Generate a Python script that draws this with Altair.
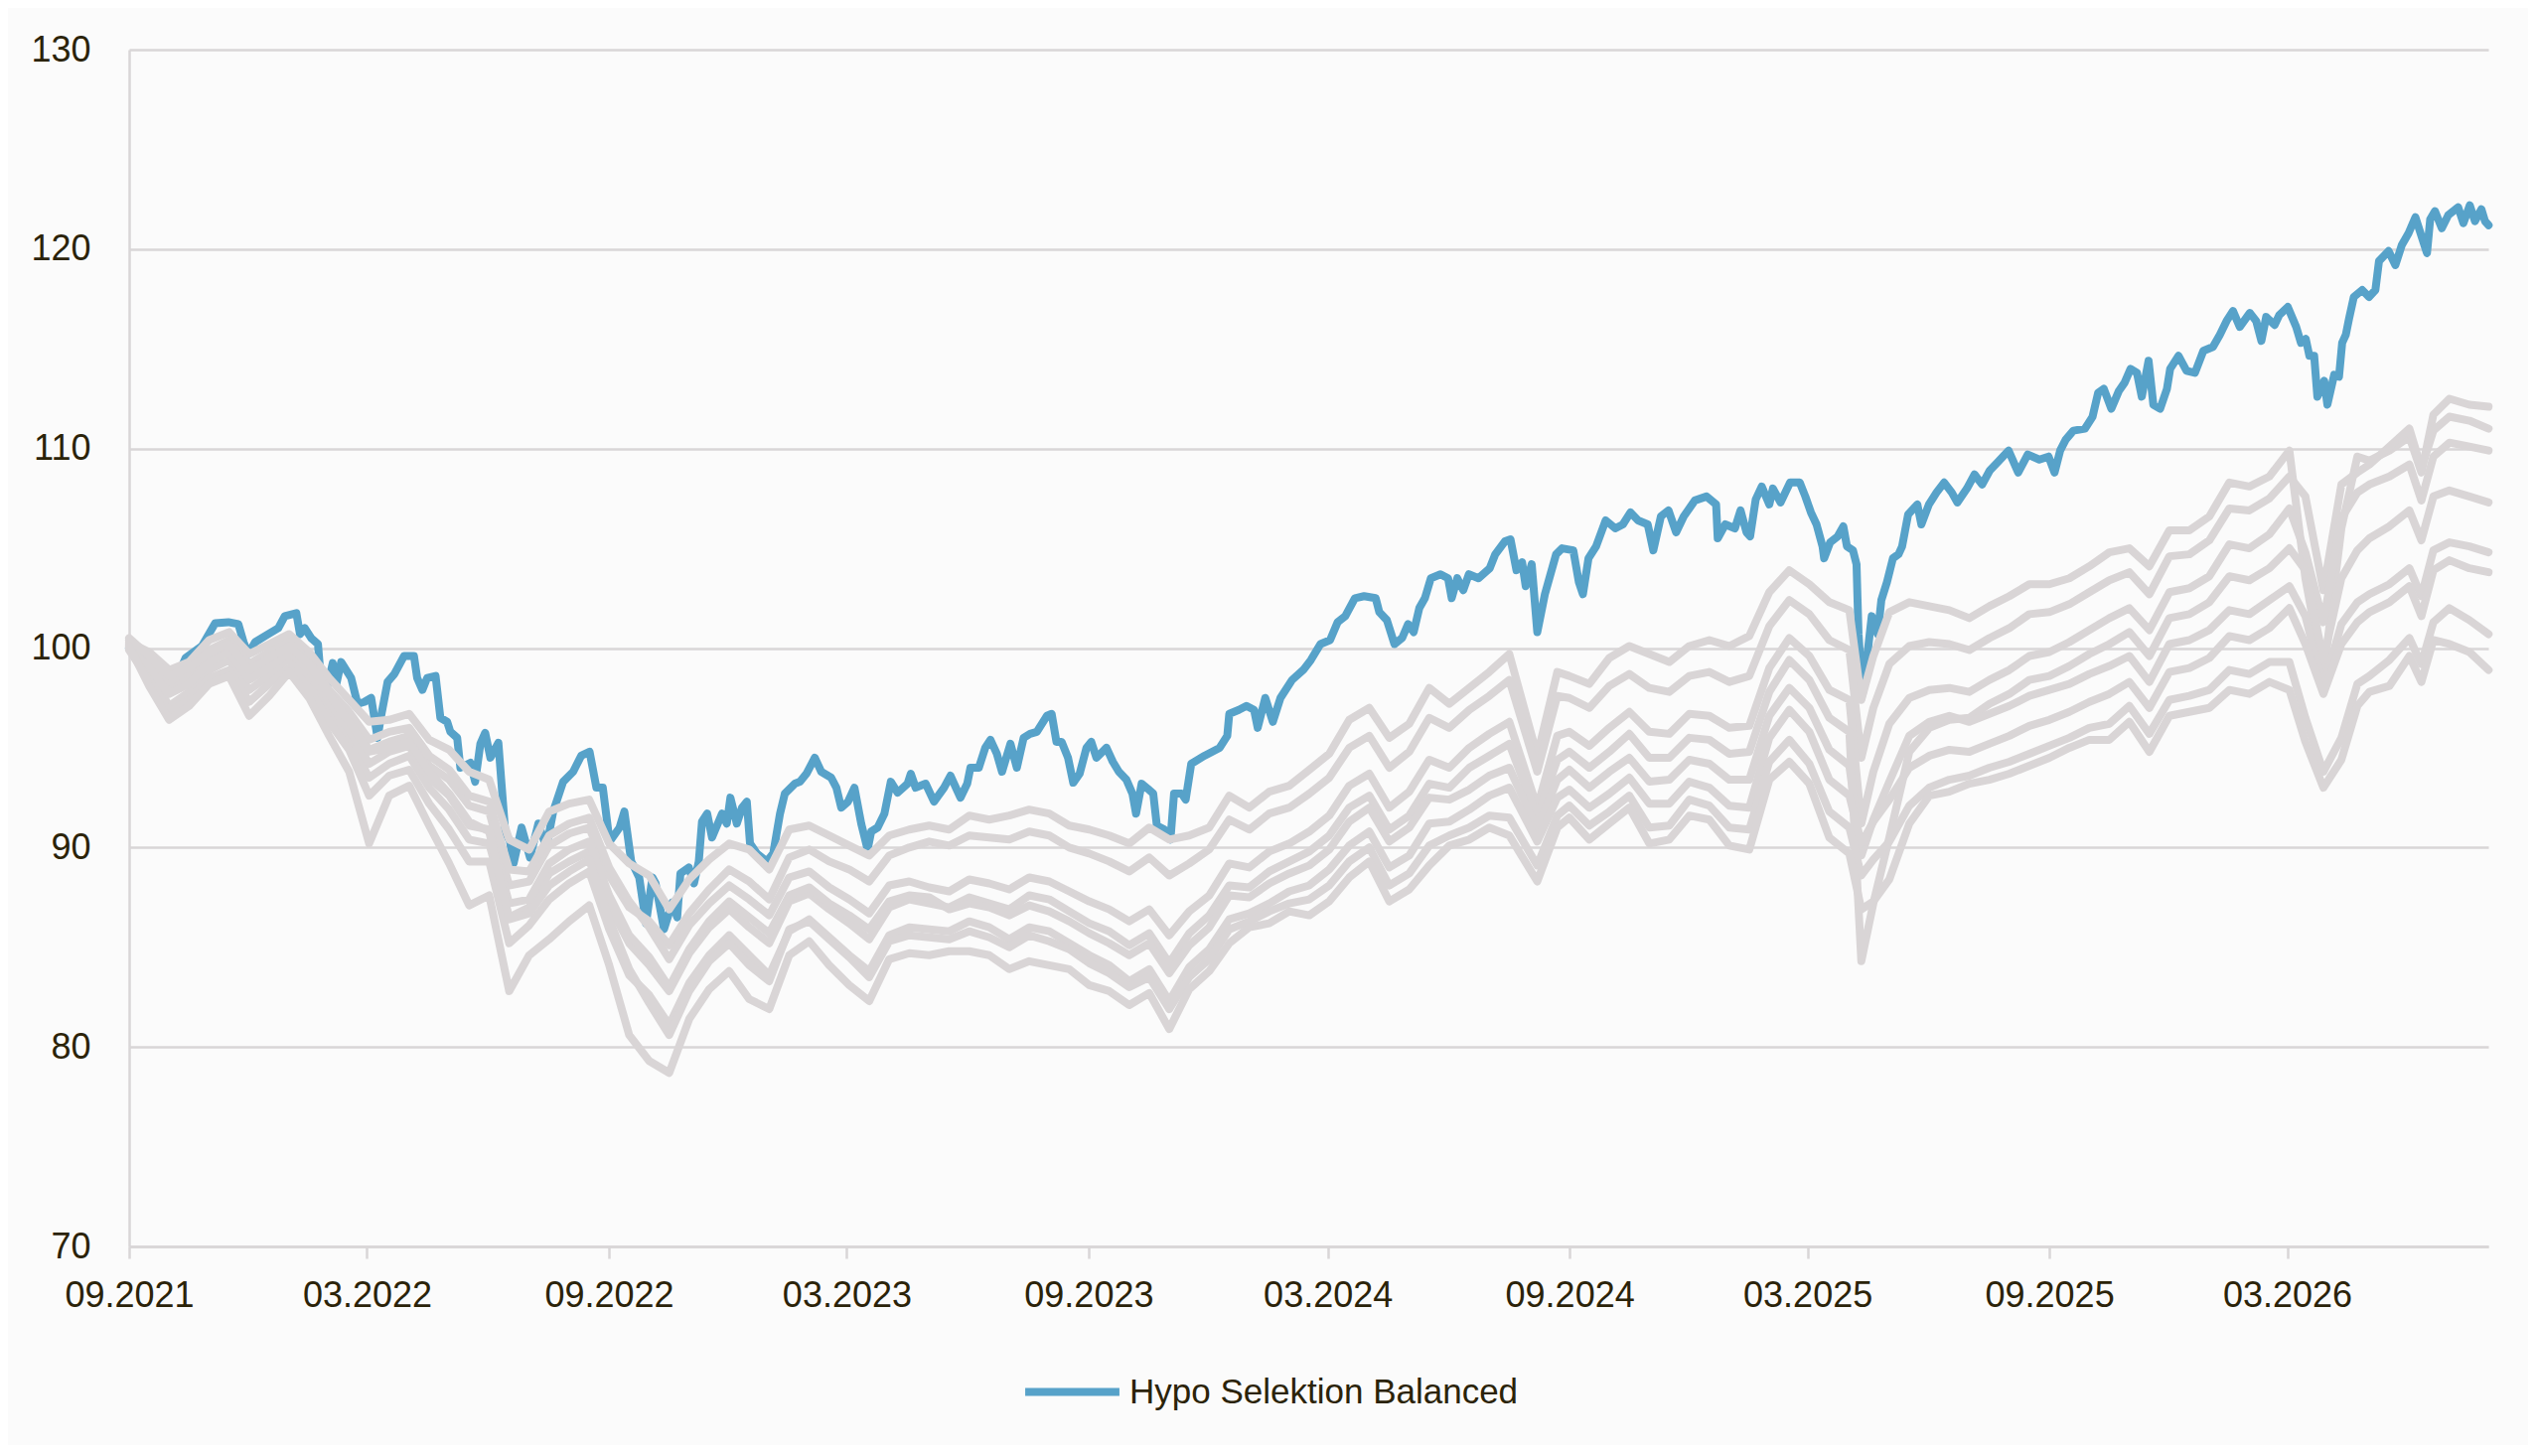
import altair as alt
import numpy as np
import pandas as pd

# ---------------- data ----------------
START = "2021-09-01"
DAYS_PER_MONTH = 30.4375

SERIES_NAME = "Hypo Selektion Balanced"

# highlighted fund: month offsets since 09.2021 and index values
BLUE_M = [0, 0.3, 0.6, 0.85, 1.08, 1.41, 1.82, 2.15, 2.48, 2.73, 2.86, 2.98, 3.15, 3.48, 3.73, 3.89,
          4.18, 4.27, 4.39, 4.55, 4.72, 4.80, 4.97, 5.09, 5.18, 5.30, 5.55, 5.71, 5.88, 6.05, 6.21,
          6.29, 6.46, 6.63, 6.87, 7.12, 7.20, 7.33, 7.45, 7.66, 7.78, 7.95, 8.03, 8.20, 8.28, 8.53,
          8.65, 8.78, 8.90, 9.03, 9.23, 9.40, 9.52, 9.61, 9.81, 10.02, 10.23, 10.43, 10.60, 10.85,
          11.10, 11.30, 11.51, 11.68, 11.84, 12.01, 12.26, 12.38, 12.55,
          12.63, 12.75, 12.92, 13.08, 13.16, 13.37, 13.58, 13.70, 13.78, 13.99, 14.12, 14.24, 14.32,
          14.45, 14.57, 14.82, 14.94, 15.03, 15.19, 15.32, 15.44, 15.52, 15.69, 15.94, 16.10, 16.27,
          16.39, 16.64, 16.77, 16.93, 17.14, 17.30, 17.55, 17.68, 17.80, 17.97, 18.13, 18.30, 18.46,
          18.55, 18.71, 18.88, 19.04, 19.21, 19.46, 19.54, 19.66, 19.91, 20.12, 20.37, 20.53, 20.78,
          20.95, 21.03, 21.24, 21.40, 21.53, 21.69, 21.82, 22.03, 22.19, 22.36, 22.52, 22.69, 22.94,
          23.06, 23.18, 23.31, 23.47, 23.60, 23.76, 23.93, 24.05, 24.18, 24.43, 24.59,
          24.74, 24.93, 25.08, 25.17, 25.31, 25.46, 25.60, 25.69, 25.88, 26.03, 26.12, 26.31, 26.41,
          26.55, 26.88, 27.26, 27.45, 27.50, 27.74, 27.93, 28.12, 28.21, 28.40, 28.59, 28.78, 29.07,
          29.35, 29.54, 29.78, 30.02, 30.21, 30.40, 30.64, 30.87, 31.16, 31.25, 31.44, 31.63, 31.82,
          31.97, 32.11, 32.25, 32.39, 32.54, 32.78, 32.97, 33.06, 33.20, 33.35, 33.49, 33.73, 34.01,
          34.15, 34.39, 34.53, 34.68, 34.82, 34.91, 35.06, 35.20, 35.39, 35.53, 35.67, 35.82, 36.10,
          36.24, 36.34, 36.48, 36.67, 36.91, 37.15, 37.34, 37.53, 37.72, 37.96, 38.10, 38.29, 38.48,
          38.67, 38.86, 39.14,
          39.43, 39.67, 39.71, 39.90, 40.14, 40.28, 40.43, 40.52, 40.66, 40.81, 41.00, 41.09, 41.28,
          41.52, 41.76, 41.90, 42.04, 42.18, 42.33, 42.37, 42.52, 42.71, 42.85, 42.94, 43.09, 43.18,
          43.23, 43.33, 43.47, 43.56, 43.71, 43.80, 43.94, 44.09, 44.23, 44.32, 44.47, 44.70, 44.80,
          44.99, 45.18, 45.37, 45.56, 45.70, 45.94, 46.13, 46.32, 46.51, 46.70, 46.98, 47.22, 47.46,
          47.75, 47.98, 48.13, 48.27, 48.41, 48.60, 48.89, 49.08, 49.22, 49.36, 49.55, 49.74, 49.88,
          50.03,
          50.19, 50.31, 50.48, 50.60, 50.77, 50.94, 51.02, 51.23, 51.43, 51.64, 51.85, 52.09, 52.26,
          52.43, 52.59, 52.76, 53.01, 53.17, 53.30, 53.42, 53.63, 53.75, 53.96, 54.17, 54.29, 54.41,
          54.50, 54.62, 54.70, 54.87, 54.95, 55.12, 55.24, 55.32, 55.41, 55.49, 55.61, 55.82, 55.99,
          56.15, 56.24, 56.48, 56.65, 56.81, 56.98, 57.15, 57.31, 57.44, 57.52, 57.64, 57.81, 57.97,
          58.22, 58.35, 58.51, 58.64, 58.80, 58.89, 58.98]

BLUE_V = [100.0, 99.5, 99.1, 98.2, 98.0, 99.5, 100.1, 101.25, 101.3, 101.2, 100.3, 99.7, 100.3, 100.7,
          101.0, 101.6, 101.75, 100.7, 101.0, 100.5, 100.2, 98.3, 98.2, 99.25, 98.2, 99.3, 98.5, 97.2,
          97.3, 97.5, 95.5, 96.5, 98.3, 98.7, 99.6, 99.6, 98.5, 97.9, 98.5, 98.6, 96.5, 96.3, 95.8,
          95.5, 94.0, 94.25, 93.3, 95.2, 95.75, 94.5, 95.25, 90.8, 90.3, 89.2, 91.0, 89.5, 91.2, 90.0,
          91.8, 93.3, 93.8, 94.6, 94.8, 93.0, 93.0, 90.3, 91.0, 91.8, 89.3,
          89.0, 88.5, 86.2, 88.5, 88.2, 85.9, 87.25, 86.5, 88.7, 89.0, 88.2, 89.3, 91.3,
          91.7, 90.5, 91.7, 91.2, 92.5, 91.2, 92.0, 92.3, 90.2, 89.7, 89.3, 89.7, 91.7,
          92.7, 93.2, 93.3, 93.7, 94.5, 93.8, 93.5, 93.0, 92.0, 92.3, 93.0, 91.2, 89.9,
          90.8, 91.0, 91.7, 93.3, 92.75, 93.2, 93.7, 93.0, 93.2, 92.3, 93.0, 93.6, 92.5,
          93.2, 94.0, 94.0, 95.0, 95.4, 94.7, 93.8, 95.2, 94.0, 95.5, 95.7, 95.8, 96.6,
          96.7, 95.3, 95.3, 94.5, 93.25, 93.7, 95.0, 95.3, 94.5, 95.0, 94.3,
          93.8, 93.4, 92.7, 91.7, 93.2, 92.95, 92.7, 91.1, 90.9, 90.4, 92.7, 92.7, 92.4,
          94.2, 94.6, 95.0, 95.6, 96.7, 96.9, 97.1, 96.9, 96.0, 97.5, 96.3, 97.5, 98.4,
          98.9, 99.4, 100.2, 100.4, 101.3, 101.6, 102.5, 102.6, 102.5, 101.8, 101.4, 100.2, 100.5,
          101.2, 100.8, 102.0, 102.5, 103.5, 103.7, 103.5, 102.5, 103.5, 102.9, 103.7, 103.5, 104.0,
          104.7, 105.35, 105.45, 103.9, 104.3, 103.1, 104.2, 100.8, 102.7, 103.7, 104.7, 105.0, 104.9,
          103.3, 102.7, 104.5, 105.1, 106.4, 106.0, 106.2, 106.8, 106.4, 106.2, 104.9, 106.6, 106.9,
          105.8, 106.6, 107.4,
          107.6, 107.2, 105.5, 106.2, 106.0, 106.9, 105.8, 105.6, 107.45, 108.1, 107.2, 108.0, 107.3,
          108.3, 108.3, 107.6, 106.8, 106.2, 105.1, 104.5, 105.3, 105.6, 106.1, 105.1, 104.9, 104.2,
          100.7, 97.7, 100.0, 101.6, 100.7, 102.4, 103.3, 104.5, 104.7, 105.1, 106.7, 107.2, 106.2,
          107.2, 107.8, 108.3, 107.8, 107.3, 108.0, 108.7, 108.2, 108.9, 109.3, 109.9, 108.8, 109.7,
          109.45, 109.6, 108.8, 109.9, 110.45, 110.9, 111.0, 111.6, 112.8, 113.0, 112.0, 112.9, 113.3,
          114.0,
          113.8, 112.6, 114.4, 112.2, 112.0, 113.0, 114.0, 114.65, 113.9, 113.8, 114.9, 115.1, 115.7,
          116.4, 116.9, 116.1, 116.8, 116.4, 115.4, 116.6, 116.2, 116.7, 117.1, 116.1, 115.3, 115.5,
          114.65, 114.65, 112.6, 113.4, 112.2, 113.7, 113.6, 115.3, 115.7, 116.5, 117.6, 117.95, 117.6,
          117.95, 119.4, 119.9, 119.2, 120.2, 120.8, 121.6, 120.6, 119.8, 121.5, 121.9, 121.05, 121.7,
          122.1, 121.3, 122.2, 121.4, 122.0, 121.4, 121.2]

# peer-group funds (grey), sampled on a common month grid
GRID_M = [0, 0.5, 1, 1.5, 2, 2.5, 3, 3.5, 4, 4.5,
          5, 5.5, 6, 6.5, 7, 7.5, 8, 8.5, 9, 9.5,
          10, 10.5, 11, 11.5, 12, 12.5, 13, 13.5, 14, 14.5,
          15, 15.5, 16, 16.5, 17, 17.5, 18, 18.5, 19, 19.5,
          20, 20.5, 21, 21.5, 22, 22.5, 23, 23.5, 24, 24.5,
          25, 25.5, 26, 26.5, 27, 27.5, 28, 28.5, 29, 29.5,
          30, 30.5, 31, 31.5, 32, 32.5, 33, 33.5, 34, 34.5,
          35.2, 35.7, 36, 36.5, 37, 37.5, 38, 38.5, 39, 39.5,
          40, 40.5, 41, 41.5, 42, 42.5, 43, 43.3, 43.6, 44,
          44.5, 45, 45.5, 46, 46.5, 47, 47.5, 48, 48.5, 49,
          49.5, 50, 50.5, 51, 51.5, 52, 52.5, 53, 53.5, 54,
          54.4, 54.85, 55.3, 55.7, 56, 56.5, 57, 57.3, 57.6, 58, 58.5, 58.98]

PEER_1 = [100.3, 99.8, 98.9, 99.3, 100.4, 100.8, 99.7, 100.2, 100.7, 99.8,
          98.5, 97.4, 96.3, 96.4, 96.7, 95.4, 94.9, 93.8, 93.4, 90.4,
          89.9, 91.8, 92.2, 92.4, 90.2, 89.2, 88.6, 86.9, 88.4, 89.4,
          90.2, 89.9, 88.9, 90.9, 91.1, 90.6, 90.1, 89.6, 90.6, 90.9,
          91.1, 90.9, 91.6, 91.4, 91.6, 91.9, 91.7, 91.1, 90.9, 90.6,
          90.2, 91.0, 90.4, 90.6, 91.0, 92.6, 92.0, 92.8, 93.1, 93.9,
          94.7, 96.4, 97.0, 95.5, 96.2, 98.0, 97.2, 98.0, 98.8, 99.7,
          94.6, 98.8, 98.6, 98.2, 99.5, 100.1, 99.7, 99.3, 100.1, 100.4,
          100.1, 100.6, 102.8, 103.9, 103.2, 102.3, 101.9, 97.4, 99.6, 101.8,
          102.3, 102.1, 101.9, 101.5, 102.1, 102.6, 103.2, 103.2, 103.5, 104.1,
          104.8, 105.0, 104.1, 105.9, 105.9, 106.6, 108.3, 108.1, 108.6, 109.9,
          103.5, 98.6, 106.0, 109.6, 109.4, 109.9, 110.6, 108.8, 111.7, 112.5, 112.2, 112.1]

PEER_2 = [100.1, 99.2, 97.9, 98.5, 99.6, 100.1, 98.7, 99.4, 100.0, 99.0,
          97.6, 96.4, 94.9, 95.3, 95.6, 94.1, 93.4, 92.1, 91.8, 88.1,
          88.3, 90.1, 90.7, 91.0, 88.6, 87.0, 86.3, 85.1, 86.7, 87.9,
          88.9, 88.3, 87.4, 89.5, 89.9, 89.3, 88.9, 88.3, 89.6, 90.0,
          90.3, 90.1, 90.6, 90.5, 90.4, 90.8, 90.6, 90.0, 89.7, 89.3,
          88.8, 89.5, 88.6, 89.2, 89.9, 91.4, 90.9, 91.7, 92.0, 92.7,
          93.5, 95.0, 95.6, 94.0, 94.8, 96.5, 96.0, 96.9, 97.6, 98.4,
          93.8, 97.6, 97.5, 97.0, 98.1, 98.7, 98.0, 97.8, 98.6, 98.8,
          98.3, 98.6, 101.1, 102.4, 101.7, 100.4, 99.9, 94.5, 97.0, 99.2,
          100.1, 100.3, 100.2, 99.9, 100.5, 101.0, 101.7, 101.8, 102.2, 102.8,
          103.4, 103.8, 102.7, 104.6, 104.7, 105.4, 107.0, 106.9, 107.5, 108.6,
          107.6, 102.9, 108.2, 108.8, 109.2, 110.1, 111.0, 109.0, 110.9, 111.6, 111.4, 111.0]

PEER_3 = [100.4, 99.5, 98.3, 98.9, 99.9, 100.4, 99.2, 99.8, 100.3, 99.3,
          97.9, 96.8, 95.4, 95.8, 96.0, 94.6, 93.9, 92.6, 92.3, 88.9,
          88.8, 90.6, 91.2, 91.5, 89.0, 87.3, 86.0, 84.4, 86.1, 87.2,
          88.1, 87.4, 86.6, 88.5, 88.8, 88.0, 87.4, 86.7, 88.1, 88.3,
          88.0, 87.8, 88.4, 88.2, 87.9, 88.5, 88.3, 87.8, 87.3, 86.9,
          86.3, 86.9, 85.6, 86.8, 87.6, 89.2, 89.0, 89.8, 90.2, 90.8,
          91.6, 93.1, 93.7, 92.0, 92.8, 94.4, 94.0, 95.0, 95.7, 96.3,
          92.0, 95.6, 95.8, 95.1, 96.0, 96.8, 95.8, 95.7, 96.7, 96.6,
          96.0, 96.1, 99.0, 100.5, 99.6, 97.9, 97.4, 91.2, 93.8, 96.2,
          97.5, 97.9, 98.0, 97.8, 98.4, 98.9, 99.6, 99.8, 100.3, 100.9,
          101.5, 102.0, 100.9, 102.8, 103.0, 103.6, 105.2, 105.0, 105.7, 107.0,
          104.8, 101.3, 106.5, 107.8, 108.2, 108.6, 109.2, 107.4, 109.6, 110.3, 110.1, 109.9]

PEER_4 = [100.0, 98.8, 97.1, 97.8, 98.9, 99.4, 97.9, 98.6, 99.5, 98.4,
          96.8, 95.4, 93.5, 94.2, 94.6, 93.0, 91.9, 90.4, 90.2, 86.5,
          87.0, 88.7, 89.3, 89.8, 87.1, 85.2, 84.1, 82.8, 84.7, 86.0,
          86.9, 86.0, 85.2, 87.3, 87.7, 86.9, 86.2, 85.4, 87.0, 87.4,
          87.2, 87.0, 87.5, 87.2, 86.9, 87.6, 87.4, 86.8, 86.2, 85.8,
          85.1, 85.7, 84.2, 85.7, 86.6, 88.1, 88.0, 88.8, 89.3, 89.8,
          90.6, 92.0, 92.6, 90.9, 91.6, 93.2, 93.0, 94.0, 94.6, 95.2,
          91.5, 94.4, 94.8, 94.0, 94.8, 95.7, 94.5, 94.5, 95.5, 95.4,
          94.7, 94.8, 97.8, 99.4, 98.4, 96.5, 95.8, 84.3, 87.2, 90.5,
          94.8, 96.0, 96.4, 96.5, 97.2, 97.7, 98.4, 98.6, 99.1, 99.7,
          100.2, 100.8, 99.6, 101.5, 101.7, 102.3, 103.6, 103.4, 104.0, 105.0,
          103.9, 99.4, 103.5, 104.9, 105.5, 106.1, 106.9, 105.4, 107.6, 107.9, 107.6, 107.3]

PEER_5 = [100.2, 99.0, 97.7, 98.2, 99.3, 99.8, 98.4, 99.0, 99.8, 98.9,
          97.3, 95.9, 94.2, 94.8, 95.1, 93.5, 92.6, 91.1, 90.9, 87.2,
          87.4, 89.2, 89.9, 90.3, 87.6, 85.6, 84.5, 83.0, 84.9, 86.3,
          87.3, 86.5, 85.7, 87.6, 88.0, 87.2, 86.6, 85.9, 87.3, 87.6,
          87.5, 86.9, 87.2, 87.0, 86.6, 87.1, 86.8, 86.3, 85.7, 85.2,
          84.6, 85.2, 83.7, 85.1, 86.0, 87.6, 87.5, 88.2, 88.7, 89.1,
          89.9, 91.3, 92.0, 90.3, 91.0, 92.5, 92.4, 92.9, 93.6, 94.0,
          90.9, 93.4, 93.9, 93.0, 93.8, 94.5, 93.3, 93.4, 94.4, 94.2,
          93.4, 93.4, 96.6, 98.0, 97.0, 94.9, 94.1, 89.6, 91.4, 93.3,
          95.6, 96.3, 96.6, 96.3, 96.7, 97.1, 97.6, 97.9, 98.2, 98.7,
          99.1, 99.6, 98.3, 100.2, 100.4, 100.9, 101.9, 101.7, 102.4, 103.1,
          101.6, 98.0, 101.2, 102.3, 102.7, 103.2, 104.0, 102.6, 104.9, 105.3, 105.1, 104.8]

PEER_6 = [99.9, 98.4, 96.8, 97.4, 98.5, 98.9, 97.3, 98.2, 99.0, 98.0,
          96.3, 94.9, 92.6, 93.6, 93.9, 92.2, 90.9, 89.3, 89.3, 85.2,
          86.1, 87.4, 88.2, 88.8, 85.9, 83.6, 82.6, 81.1, 83.2, 84.6,
          85.6, 84.6, 83.6, 85.8, 86.4, 85.5, 84.6, 83.8, 85.6, 86.0,
          85.9, 85.8, 86.3, 86.0, 85.4, 86.0, 85.8, 85.2, 84.6, 84.1,
          83.3, 83.9, 82.3, 84.0, 84.9, 86.4, 86.7, 87.2, 87.8, 88.1,
          88.9, 90.1, 90.8, 89.0, 89.6, 91.2, 91.3, 91.9, 92.6, 93.0,
          90.3, 92.5, 92.9, 92.0, 92.7, 93.5, 92.2, 92.2, 93.3, 93.0,
          92.1, 92.0, 95.5, 96.9, 95.8, 93.4, 92.6, 90.2, 91.3, 92.4,
          94.0, 94.6, 94.9, 94.8, 95.2, 95.6, 96.1, 96.4, 96.8, 97.3,
          97.7, 98.3, 97.0, 98.8, 99.0, 99.5, 100.6, 100.4, 101.0, 102.0,
          100.2, 97.7, 100.2, 101.3, 101.8, 102.3, 103.1, 101.6, 103.9, 104.4, 104.0, 103.8]

PEER_7 = [100.5, 99.6, 98.6, 99.0, 99.8, 100.2, 98.9, 99.5, 100.1, 99.2,
          97.7, 96.3, 94.8, 95.0, 95.3, 93.8, 92.7, 91.3, 90.8, 86.4,
          86.7, 88.1, 88.8, 89.4, 86.4, 83.9, 82.2, 80.6, 82.8, 84.3,
          85.2, 84.1, 83.3, 85.9, 86.3, 85.4, 84.5, 83.5, 85.3, 85.6,
          85.5, 85.4, 85.8, 85.5, 85.0, 85.6, 85.3, 84.9, 84.2, 83.7,
          83.0, 83.5, 81.9, 83.5, 84.4, 85.9, 86.3, 86.8, 87.2, 87.4,
          88.1, 89.3, 90.0, 88.1, 88.7, 90.1, 90.6, 91.0, 91.6, 91.5,
          89.1, 91.6, 92.1, 91.1, 91.8, 92.6, 91.0, 91.1, 92.4, 92.1,
          91.0, 90.9, 94.3, 95.4, 94.2, 91.8, 91.0, 88.6, 89.4, 90.3,
          92.1, 93.0, 93.4, 93.6, 94.0, 94.3, 94.7, 95.1, 95.5, 96.0,
          96.2, 97.1, 95.7, 97.4, 97.6, 97.9, 98.9, 98.7, 99.3, 99.3,
          96.5, 93.8, 95.5, 98.2, 98.6, 99.4, 100.5, 99.2, 101.3, 102.0, 101.4, 100.7]

PEER_8 = [100.1, 98.1, 96.4, 97.1, 98.2, 98.6, 96.6, 97.6, 98.8, 97.5,
          95.6, 93.8, 90.2, 92.6, 93.1, 91.1, 89.2, 87.1, 87.6, 82.8,
          84.6, 85.4, 86.3, 87.1, 84.1, 80.6, 79.3, 78.7, 81.4, 82.9,
          83.8, 82.4, 81.9, 84.6, 85.3, 84.1, 83.1, 82.3, 84.4, 84.7,
          84.6, 84.8, 84.8, 84.6, 83.9, 84.3, 84.1, 83.9, 83.1, 82.8,
          82.1, 82.7, 80.9, 82.9, 83.8, 85.2, 86.0, 86.2, 86.8, 86.6,
          87.3, 88.5, 89.3, 87.3, 87.9, 89.1, 90.1, 90.4, 91.0, 90.6,
          88.3, 91.0, 91.5, 90.4, 91.2, 92.0, 90.2, 90.4, 91.6, 91.4,
          90.1, 89.9, 93.4, 94.3, 93.2, 90.5, 89.7, 86.9, 87.3, 88.4,
          91.2, 92.6, 92.8, 93.2, 93.4, 93.7, 94.1, 94.5, 95.0, 95.4,
          95.4, 96.3, 94.8, 96.6, 96.8, 97.0, 97.9, 97.7, 98.3, 97.9,
          95.3, 93.0, 94.4, 97.1, 97.8, 98.1, 99.6, 98.3, 100.4, 100.2, 99.8, 98.9]

PEERS = [PEER_1, PEER_2, PEER_3, PEER_4, PEER_5, PEER_6, PEER_7, PEER_8]

Y_TICKS = [70, 80, 90, 100, 110, 120, 130]
X_TICK_MONTHS = [(2021, 9), (2022, 3), (2022, 9), (2023, 3), (2023, 9),
                 (2024, 3), (2024, 9), (2025, 3), (2025, 9), (2026, 3)]

# ---------------- styles ----------------
FONT = "Liberation Sans"
TEXT = "#2b2309"
BLUE = "#57a2c9"
GREY = "#d9d5d6"
GRID = "#d9d6d7"
BG = "#fbfbfb"


def to_dates(months):
    return pd.Timestamp(START) + pd.to_timedelta(np.asarray(months, dtype=float) * DAYS_PER_MONTH, unit="D")


blue_df = pd.DataFrame({"date": to_dates(BLUE_M), "value": BLUE_V, "series": SERIES_NAME})

peer_frames = []
for i, vals in enumerate(PEERS):
    peer_frames.append(pd.DataFrame({"date": to_dates(GRID_M), "value": vals, "line": f"peer{i + 1}"}))
peer_df = pd.concat(peer_frames, ignore_index=True)

x_enc = alt.X(
    "date:T",
    scale=alt.Scale(domain=[alt.DateTime(year=2021, month=9, date=1),
                            alt.DateTime(year=2026, month=8, date=1)]),
    axis=alt.Axis(
        values=[alt.DateTime(year=y, month=m, date=1) for y, m in X_TICK_MONTHS],
        format="%m.%Y", title=None, grid=False, labelAngle=0, labelOverlap=False,
        labelAlign="center", labelFlush=False,
        domainColor=GRID, domainWidth=2.5, tickColor=GRID, tickWidth=2.5, tickSize=12,
        labelPadding=20, labelFontSize=36, labelColor=TEXT, labelFont=FONT,
    ),
)
y_enc = alt.Y(
    "value:Q",
    scale=alt.Scale(domain=[70, 130], nice=False, zero=False),
    axis=alt.Axis(
        values=Y_TICKS, title=None, grid=True, gridColor=GRID, gridWidth=2.5, ticks=False,
        domainColor=GRID, domainWidth=2.5, labelPadding=39, labelFontSize=36,
        labelColor=TEXT, labelFont=FONT,
    ),
)

blue_layer = alt.Chart(blue_df).mark_line(
    strokeWidth=8, strokeCap="round", strokeJoin="round"
).encode(
    x=x_enc,
    y=y_enc,
    color=alt.Color(
        "series:N",
        scale=alt.Scale(domain=[SERIES_NAME], range=[BLUE]),
        legend=alt.Legend(
            orient="none", legendX=898, legendY=1300, title=None, direction="horizontal",
            symbolType="stroke", symbolSize=9000, symbolStrokeWidth=8, labelLimit=1000,
            labelFontSize=35, labelColor=TEXT, labelFont=FONT, labelOffset=6, padding=0,
        ),
    ),
)

peer_layer = alt.Chart(peer_df).mark_line(
    color=GREY, strokeWidth=8, strokeCap="round", strokeJoin="round"
).encode(
    x=x_enc,
    y=y_enc,
    detail="line:N",
)

chart = alt.layer(blue_layer, peer_layer).properties(
    width=2375,
    height=1205,
    autosize=alt.AutoSizeParams(type="none"),
    padding={"left": 122, "top": 42, "right": 40, "bottom": 200},
    background=BG,
).configure_view(strokeWidth=0)

chart.save("out.html", embed_options={"renderer": "svg", "actions": False})
